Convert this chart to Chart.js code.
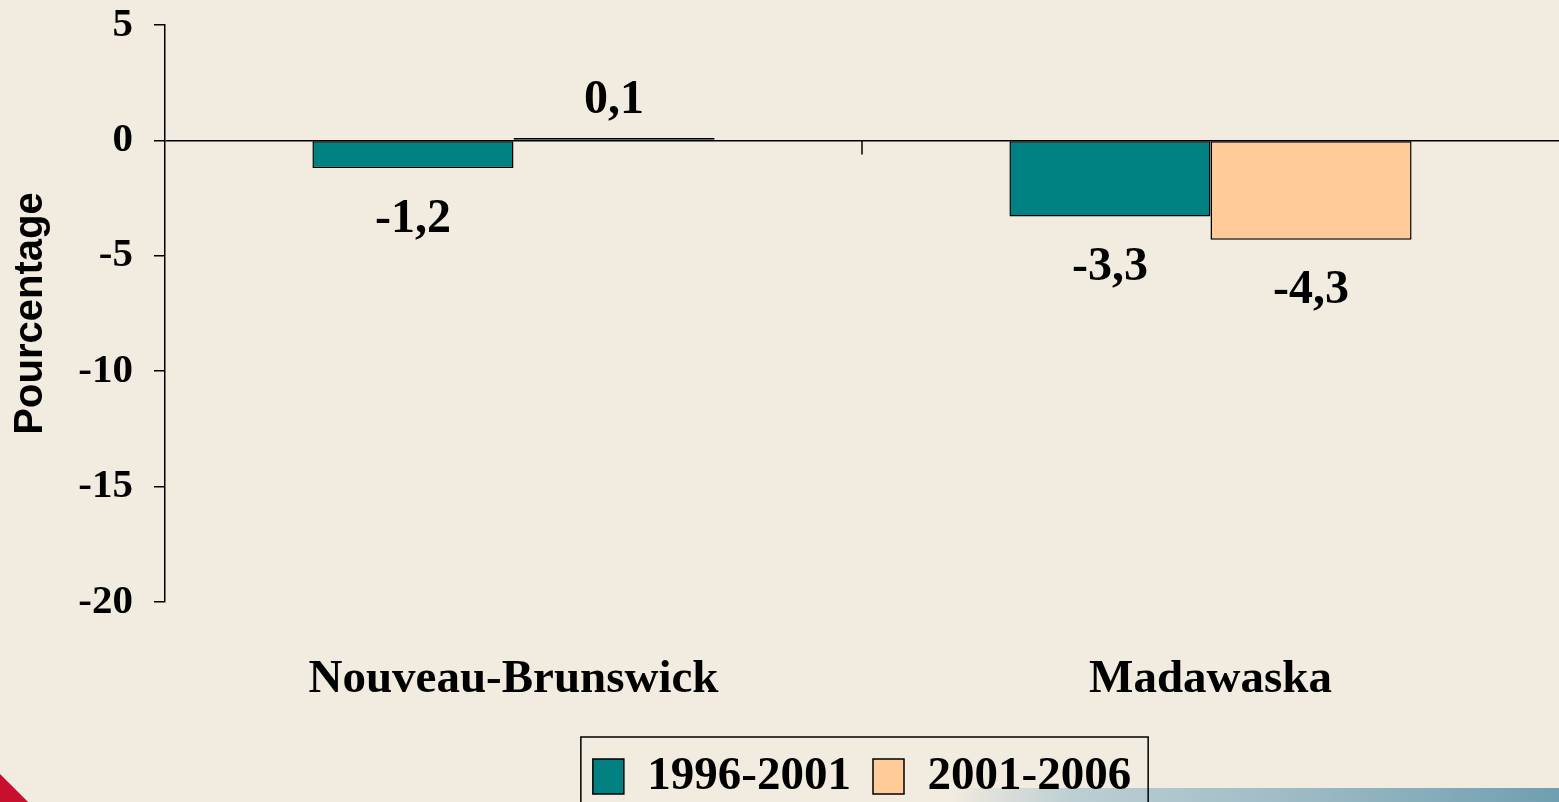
<!DOCTYPE html>
<html>
<head>
<meta charset="utf-8">
<script src="https://cdn.jsdelivr.net/npm/chart.js@4/dist/chart.umd.min.js"></script>
<style>
  html, body { margin:0; padding:0; background:#f2ebdf; }
  #wrap { position:relative; width:1559px; height:802px; overflow:hidden; background:#f2ebdf; }
  #bluebar { position:absolute; left:950px; top:788px; width:609px; height:14px;
    background:linear-gradient(to right, rgba(200,215,215,0) 0%, #bccfd3 20%, #9fbcc6 55%, #6f9fb0 100%); }
  #redmark { position:absolute; left:-22px; top:770px; width:44px; height:70px;
    background:linear-gradient(to right, #c8102e 0 38%, #f0b0b8 38% 48%, #c8102e 48% 100%);
    transform:rotate(-45deg); }
  canvas { position:absolute; left:0; top:0; }
</style>
</head>
<body>
<div id="wrap">
  <div id="bluebar"></div>
  <div id="redmark"></div>
  <canvas id="c" width="1559" height="802"></canvas>
</div>
<script>
const categories = ["Nouveau-Brunswick", "Madawaska"];
const seriesNames = ["1996-2001", "2001-2006"];
const values9601 = [-1.2, -3.3];
const values0106 = [0.1, -4.3];
const yTicks = [5, 0, -5, -10, -15, -20];
const seriesColors = ["#008080", "#ffcc99"];

const fmt = v => String(v).replace('.', ',');

const valueLabels = {
  id: 'valueLabels',
  afterDatasetsDraw(chart) {
    const ctx = chart.ctx;
    ctx.save();
    ctx.font = 'bold 48px "Liberation Serif"';
    ctx.fillStyle = '#000';
    ctx.textAlign = 'center';
    ctx.textBaseline = 'middle';
    chart.data.datasets.forEach((ds, di) => {
      const meta = chart.getDatasetMeta(di);
      meta.data.forEach((bar, i) => {
        const v = ds.data[i];
        const y = v >= 0 ? bar.y - 37 : bar.y + 51;
        ctx.fillText(fmt(v), bar.x, y);
      });
    });
    ctx.restore();
  }
};

const extras = {
  id: 'extras',
  afterDraw(chart) {
    const ctx = chart.ctx;
    const xs = chart.scales.x, ys = chart.scales.y;
    ctx.save();
    const mid = (xs.getPixelForValue(0) + xs.getPixelForValue(1)) / 2;
    const y0 = ys.getPixelForValue(0);
    ctx.strokeStyle = '#000';
    ctx.lineWidth = 1.5;
    ctx.beginPath();
    ctx.moveTo(mid, y0);
    ctx.lineTo(mid, y0 + 14);
    ctx.stroke();
    const lg = chart.legend;
    const hb = lg.legendHitBoxes;
    if (hb && hb.length) {
      const first = hb[0], last = hb[hb.length - 1];
      const l = first.left - 12;
      const r = last.left + last.width + 17;
      const t = first.top - 16;
      ctx.strokeRect(l, t, r - l, 840 - t);
    }
    ctx.restore();
  }
};

new Chart(document.getElementById('c'), {
  type: 'bar',
  data: {
    labels: categories,
    datasets: [
      { label: seriesNames[0], data: values9601, backgroundColor: seriesColors[0],
        borderColor: '#000', borderWidth: 1.5, borderSkipped: false },
      { label: seriesNames[1], data: values0106, backgroundColor: seriesColors[1],
        borderColor: '#000', borderWidth: 1.5, borderSkipped: false }
    ]
  },
  options: {
    responsive: false,
    animation: false,
    devicePixelRatio: 1,
    layout: { padding: { top: 25, right: -10, left: 0, bottom: -8 } },
    datasets: { bar: { categoryPercentage: 0.577, barPercentage: 1.0 } },
    plugins: {
      tooltip: { enabled: false },
      legend: {
        position: 'bottom',
        fullSize: false,
        labels: {
          font: { family: '"Liberation Serif"', weight: 'bold', size: 47 },
          color: '#000',
          boxWidth: 31,
          boxHeight: 35,
          padding: 22
        }
      }
    },
    scales: {
      x: {
        grid: { display: false, drawTicks: false },
        border: { display: false },
        ticks: {
          font: { family: '"Liberation Serif"', weight: 'bold', size: 47 },
          color: '#000',
          padding: 50
        },
        afterFit(scale) { scale.height = 129; scale.paddingLeft = 0; scale.paddingRight = 0; }
      },
      y: {
        min: -20,
        max: 5,
        afterBuildTicks(scale) { scale.ticks = yTicks.map(v => ({ value: v })); },
        ticks: {
          font: { family: '"Liberation Serif"', weight: 'bold', size: 41 },
          color: '#000',
          padding: 21
        },
        grid: {
          color: c => (c.tick && c.tick.value === 0) ? '#000' : 'rgba(0,0,0,0)',
          lineWidth: 1.5,
          tickColor: '#000',
          tickLength: 11,
          drawOnChartArea: true
        },
        border: { display: true, color: '#000', width: 1.5 },
        title: {
          display: true,
          text: 'Pourcentage',
          font: { family: '"Liberation Sans"', weight: 'bold', size: 40 },
          color: '#000',
          padding: { top: 7, bottom: 0 }
        },
        afterFit(scale) { scale.width = 165; scale.paddingTop = 0; scale.paddingBottom = 0; }
      }
    }
  },
  plugins: [valueLabels, extras]
});
</script>
</body>
</html>
